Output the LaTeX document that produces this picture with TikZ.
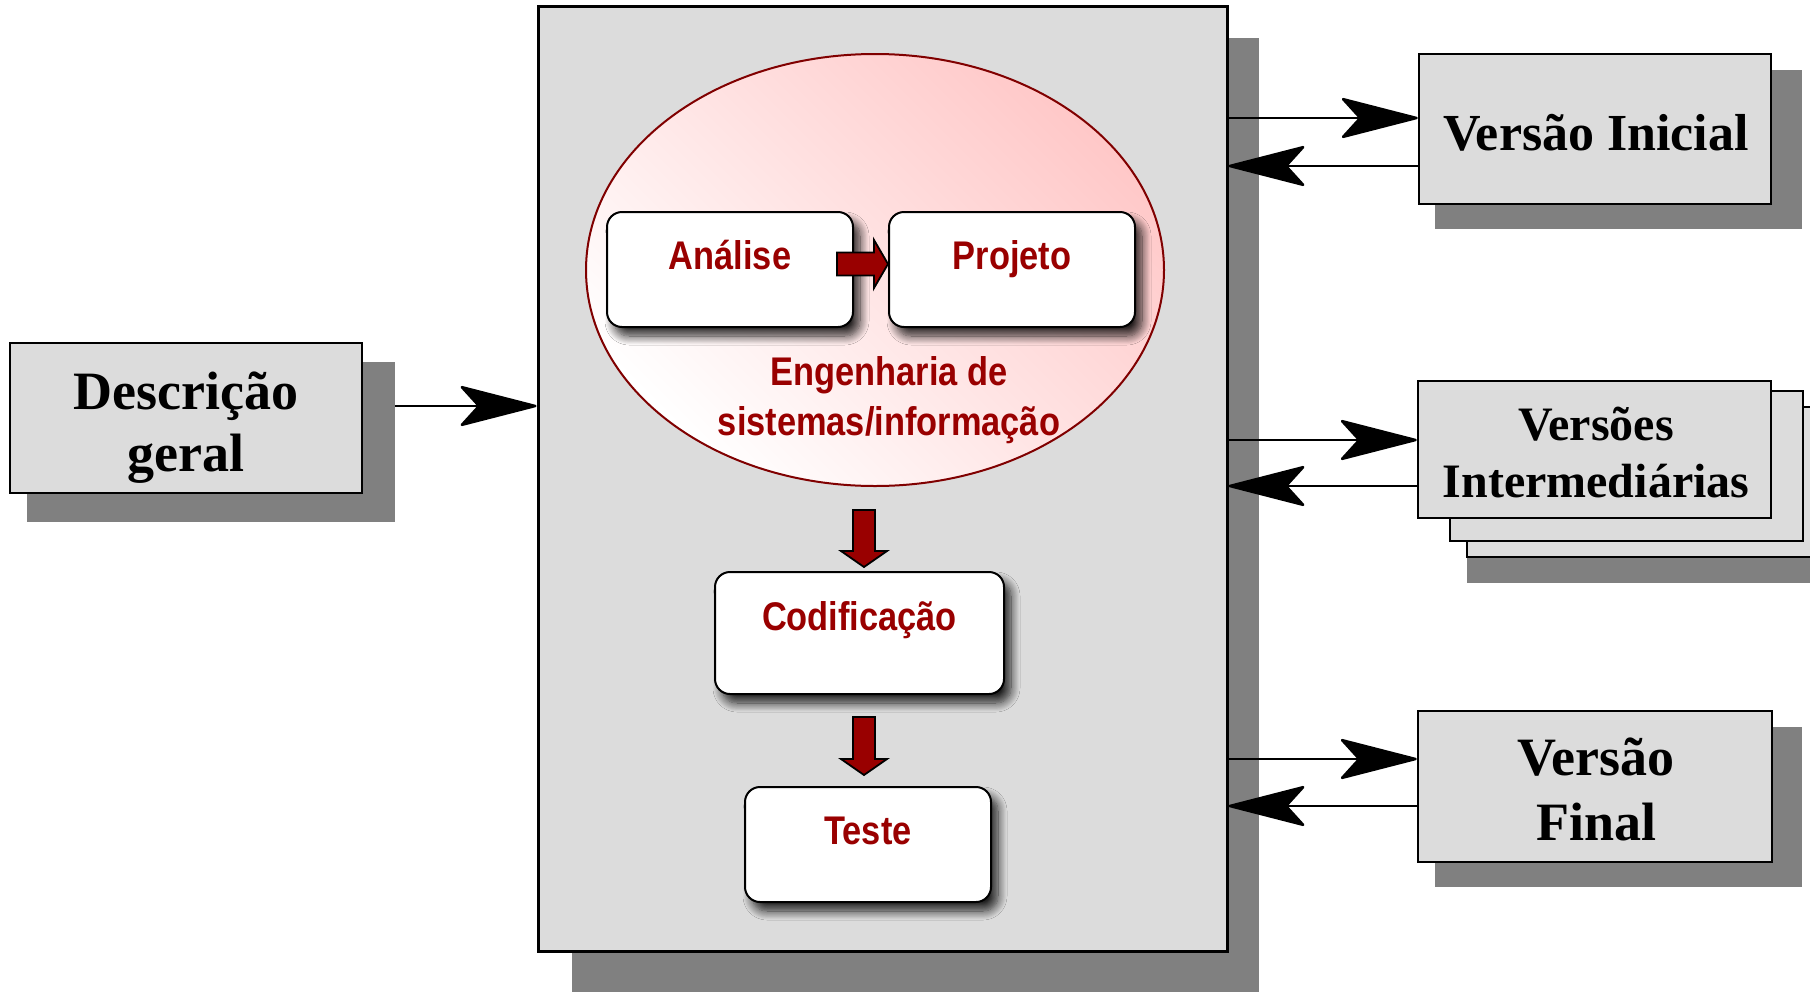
\documentclass[tikz,border=0pt]{standalone}
\usepackage{fontspec}
\setmainfont{Liberation Serif}
\newfontfamily\narrowsans{Liberation Sans}[FakeStretch=0.86]
\usetikzlibrary{arrows.meta,shadows.blur,shapes.geometric}

\definecolor{panelgray}{RGB}{220,220,220}
\definecolor{shadowgray}{RGB}{128,128,128}
\definecolor{stepred}{RGB}{153,0,0}
\definecolor{rimred}{RGB}{128,0,0}
\definecolor{blush}{RGB}{255,200,200}

\begin{document}
\begin{tikzpicture}[x=1pt,y=-1pt,
  flatshadow/.style={fill=shadowgray, draw=none, inner sep=0pt, outer sep=0pt},
  panel/.style={draw=black, line width=3pt, fill=panelgray, inner sep=0pt},
  versionbox/.style={draw=black, line width=2.5pt, fill=panelgray, inner sep=0pt},
  versiontext/.style={anchor=base, inner sep=0pt, font=\bfseries\fontsize{#1}{#1}\selectfont},
  stagebox/.style={draw=black, line width=2pt, fill=white, rounded corners=15pt,
    inner sep=0pt, text height=0pt, text depth=0pt, text=stepred,
    font=\narrowsans\bfseries\fontsize{40}{40}\selectfont,
    blur shadow={shadow xshift=7pt, shadow yshift=-9pt, shadow blur radius=9pt,
      shadow blur steps=12, shadow opacity=85}},
  stagetext/.style={anchor=base, inner sep=0pt, text=stepred,
    font=\narrowsans\bfseries\fontsize{40}{40}\selectfont},
  blockarrow/.style={draw=black, line width=1.8pt, fill=stepred, line join=miter},
  flow/.style={line width=2.5pt, -{Stealth[length=82pt, width=42pt, inset=19pt, round]}}
]
\useasboundingbox (0,0) rectangle (1810,991);

% flat drop shadows
\node[flatshadow, minimum width=687, minimum height=960] (main-sh) at (915.5,518) {};
\node[flatshadow, minimum width=368, minimum height=160] (desc-sh) at (211,442) {};
\node[flatshadow, minimum width=367, minimum height=159] (vini-sh) at (1618.5,149.5) {};
\node[flatshadow, minimum width=367, minimum height=160] (vfin-sh) at (1618.5,807) {};
\node[flatshadow, minimum width=363, minimum height=163] (vint-sh) at (1648.5,501.5) {};

% main process panel
\node[panel, minimum width=689, minimum height=945] (main) at (882.5,478.5) {};

% input box
\node[versionbox, minimum width=352, minimum height=150] (desc) at (186,418) {};
\node[versiontext=54] (desc-a) at (186,409) {Descrição};
\node[versiontext=54] (desc-b) at (186,471) {geral};

% initial version
\node[versionbox, minimum width=352, minimum height=150] (vini) at (1595,129) {};
\node[versiontext=52] (vini-a) at (1596,150) {Versão Inicial};

% intermediate versions, stacked
\node[versionbox, minimum width=363, minimum height=150] (vint-c) at (1648.5,482) {};
\node[versionbox, minimum width=353, minimum height=150] (vint-b) at (1626.5,466) {};
\node[versionbox, minimum width=353, minimum height=137] (vint) at (1594.5,449.5) {};
\node[versiontext=48] (vint-a) at (1596,440) {Versões};
\node[versiontext=48] (vint-d) at (1596,497) {Intermediárias};

% final version
\node[versionbox, minimum width=354, minimum height=151] (vfin) at (1595,786.5) {};
\node[versiontext=54] (vfin-a) at (1596,775) {Versão};
\node[versiontext=54] (vfin-b) at (1596,840) {Final};

% systems / information engineering
\node[ellipse, draw=rimred, line width=2pt, minimum width=578, minimum height=432,
  inner sep=0pt, top color=blush, bottom color=white, shading angle=-45] (eng) at (875,270) {};
\node[stagetext] (eng-a) at (889,385) {Engenharia de};
\node[stagetext] (eng-b) at (889,435) {sistemas/informação};

% process stages
\node[stagebox, minimum width=246, minimum height=115] (ana) at (730,269.5) {Análise};
\node[stagebox, minimum width=246, minimum height=115] (proj) at (1012,269.5) {Projeto};
\node[stagebox, minimum width=289, minimum height=122, text depth=6pt] (cod) at (859.5,633) {Codificação};
\node[stagebox, minimum width=246, minimum height=115] (teste) at (868,844.5) {Teste};

% block arrows between stages
\draw[blockarrow] ([yshift=5.5pt]proj.west) -- ++(-14,-24) -- ++(0,12.5) -- ++(-37,0)
  -- ++(0,23) -- ++(37,0) -- ++(0,12.5) -- cycle;
\draw[blockarrow] ([xshift=4.5pt, yshift=4pt]cod.north) -- ++(-23,-16) -- ++(12,0) -- ++(0,-41)
  -- ++(22,0) -- ++(0,41) -- ++(12,0) -- cycle;
\draw[blockarrow] ([xshift=-4pt, yshift=11pt]teste.north) -- ++(-23,-16) -- ++(12,0) -- ++(0,-42)
  -- ++(22,0) -- ++(0,42) -- ++(12,0) -- cycle;

% exchanges with the panel
\draw[flow] (desc-sh.east |- 0,406) -- (main.west |- 0,406);
\draw[flow] (main.east |- 0,118) -- (vini.west |- 0,118);
\draw[flow] (vini.west |- 0,166) -- (main.east |- 0,166);
\draw[flow] (main.east |- 0,440) -- (vint.west |- 0,440);
\draw[flow] (vint.west |- 0,486) -- (main.east |- 0,486);
\draw[flow] (main.east |- 0,759) -- (vfin.west |- 0,759);
\draw[flow] (vfin.west |- 0,806) -- (main.east |- 0,806);
\end{tikzpicture}
\end{document}
